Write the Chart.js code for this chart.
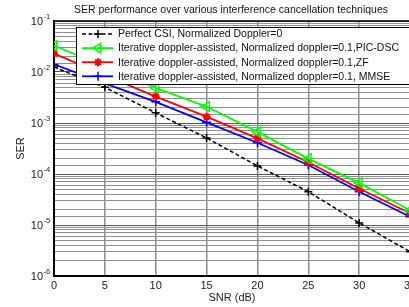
<!DOCTYPE html>
<html lang="en">
<head>
    <meta charset="UTF-8">
    <title>SER performance</title>
    <script src="https://cdn.jsdelivr.net/npm/chart.js"></script>
    <style>
        html, body {
            margin: 0;
            padding: 0;
            background-color: #fff;
            overflow: hidden;
        }
        #chart-box {
            width: 430px;
            height: 307px;
        }
    </style>
</head>
<body>
    <div id="chart-box">
        <canvas id="ser-chart"></canvas>
    </div>

    <script>
        // SNR points (dB)
        const snr = [0, 5, 10, 15, 20, 25, 30, 35];

        // SER values
        const serPerfect = [0.0125, 5.0e-3, 1.58e-3, 5.1e-4, 1.44e-4, 4.5e-5, 1.1e-5, 3.0e-6];
        const serPicDsc = [0.033, 0.0128, 4.9e-3, 2.1e-3, 6.7e-4, 2.0e-4, 6.7e-5, 1.95e-5];
        const serZf = [0.023, 8.7e-3, 3.3e-3, 1.33e-3, 5.0e-4, 1.7e-4, 5.2e-5, 1.7e-5];
        const serMmse = [0.0141, 6.0e-3, 2.6e-3, 1.03e-3, 4.1e-4, 1.5e-4, 4.5e-5, 1.45e-5];

        const seriesLabels = [
            'Perfect CSI, Normalized Doppler=0',
            'Iterative doppler-assisted, Normalized doppler=0.1,PIC-DSC',
            'Iterative doppler-assisted, Normalized doppler=0.1,ZF',
            'Iterative doppler-assisted, Normalized doppler=0.1, MMSE'
        ];

        const xTicks = [0, 5, 10, 15, 20, 25, 30, 35];
        const yDecades = [1e-1, 1e-2, 1e-3, 1e-4, 1e-5, 1e-6];

        const font = "'Liberation Sans', Arial, sans-serif";

        function isDecade(v) {
            const e = Math.log10(v);
            return Math.abs(e - Math.round(e)) < 1e-6;
        }

        function toPoints(values) {
            return snr.map((x, i) => ({ x: x, y: values[i] }));
        }

        // title, y labels with exponents, top frame line and the boxed legend
        const matlabDecor = {
            id: 'matlabDecor',
            afterDraw(chart) {
                const ctx = chart.ctx;
                const area = chart.chartArea;
                const yScale = chart.scales.y;
                ctx.save();

                // top frame
                ctx.strokeStyle = '#000';
                ctx.lineWidth = 1.5;
                ctx.beginPath();
                ctx.moveTo(area.left, area.top);
                ctx.lineTo(area.right, area.top);
                ctx.stroke();

                // title
                ctx.fillStyle = '#111';
                ctx.font = '10.5px ' + font;
                ctx.textAlign = 'center';
                ctx.textBaseline = 'middle';
                ctx.fillText('SER performance over various interference cancellation techniques', 231, 10);

                // y decade labels
                yDecades.forEach(v => {
                    const py = yScale.getPixelForValue(v);
                    const exp = String(Math.round(Math.log10(v)));
                    ctx.fillStyle = '#222';
                    ctx.font = '11px ' + font;
                    ctx.textAlign = 'right';
                    ctx.textBaseline = 'middle';
                    ctx.fillText('10', 43, py + 1);
                    ctx.font = '7.5px ' + font;
                    ctx.textAlign = 'left';
                    ctx.fillText(exp, 43.5, py - 4);
                });

                // legend
                const lx = 76, ly = 27, lw = 360, lh = 57;
                ctx.fillStyle = '#fff';
                ctx.fillRect(lx, ly, lw, lh);
                ctx.strokeStyle = '#000';
                ctx.lineWidth = 1;
                ctx.strokeRect(lx + 0.5, ly + 0.5, lw, lh);

                chart.data.datasets.forEach((ds, i) => {
                    const rowY = 34 + i * 14.1;
                    ctx.save();
                    ctx.strokeStyle = ds.borderColor;
                    ctx.lineWidth = ds.borderWidth;
                    ctx.setLineDash(ds.borderDash || []);
                    ctx.beginPath();
                    ctx.moveTo(82, rowY);
                    ctx.lineTo(113, rowY);
                    ctx.stroke();
                    ctx.setLineDash([]);
                    ctx.strokeStyle = ds.pointBorderColor;
                    ctx.fillStyle = ds.pointBackgroundColor;
                    ctx.lineWidth = ds.pointBorderWidth;
                    Chart.helpers.drawPoint(ctx, {
                        pointStyle: ds.pointStyle,
                        radius: ds.pointRadius,
                        rotation: ds.pointRotation || 0,
                        borderWidth: ds.pointBorderWidth
                    }, 98, rowY);
                    ctx.restore();

                    ctx.fillStyle = '#111';
                    ctx.font = '10.5px ' + font;
                    ctx.textAlign = 'left';
                    ctx.textBaseline = 'middle';
                    ctx.fillText(ds.label, 118, rowY + 0.5);
                });

                ctx.restore();
            }
        };

        const ctx = document.getElementById('ser-chart').getContext('2d');
        new Chart(ctx, {
            type: 'line',
            data: {
                datasets: [
                    {
                        label: seriesLabels[0],
                        data: toPoints(serPerfect),
                        borderColor: '#000',
                        borderWidth: 1.5,
                        borderDash: [4, 2.5],
                        pointStyle: 'cross',
                        pointRadius: 4,
                        pointBorderColor: '#000',
                        pointBackgroundColor: '#000',
                        pointBorderWidth: 1.5
                    },
                    {
                        label: seriesLabels[1],
                        data: toPoints(serPicDsc),
                        borderColor: '#00ff00',
                        borderWidth: 1.8,
                        pointStyle: 'triangle',
                        pointRotation: -90,
                        pointRadius: 5.5,
                        pointBorderColor: '#00ff00',
                        pointBackgroundColor: 'rgba(0,0,0,0)',
                        pointBorderWidth: 1.5
                    },
                    {
                        label: seriesLabels[2],
                        data: toPoints(serZf),
                        borderColor: '#ff0000',
                        borderWidth: 1.8,
                        pointStyle: 'star',
                        pointRadius: 4,
                        pointBorderColor: '#ff0000',
                        pointBackgroundColor: '#ff0000',
                        pointBorderWidth: 2
                    },
                    {
                        label: seriesLabels[3],
                        data: toPoints(serMmse),
                        borderColor: '#0000ff',
                        borderWidth: 1.8,
                        pointStyle: 'cross',
                        pointRadius: 4.5,
                        pointBorderColor: '#0000ff',
                        pointBackgroundColor: '#0000ff',
                        pointBorderWidth: 1.5
                    }
                ]
            },
            options: {
                responsive: true,
                maintainAspectRatio: false,
                animation: false,
                devicePixelRatio: 1,
                layout: {
                    padding: { top: 21, right: 20, left: 0, bottom: 0 }
                },
                plugins: {
                    legend: { display: false },
                    title: { display: false },
                    tooltip: { enabled: false }
                },
                scales: {
                    x: {
                        type: 'linear',
                        min: 0,
                        max: 35,
                        afterBuildTicks(scale) {
                            scale.ticks = xTicks.map(v => ({ value: v }));
                        },
                        afterFit(scale) {
                            scale.height = 31;
                        },
                        grid: {
                            color: '#8c8c8c',
                            lineWidth: 1.5,
                            drawTicks: false
                        },
                        border: { color: '#000', width: 2 },
                        ticks: {
                            color: '#222',
                            padding: 3,
                            font: { family: font, size: 11 },
                            maxRotation: 0
                        },
                        title: {
                            display: true,
                            text: 'SNR (dB)',
                            color: '#222',
                            font: { family: font, size: 11 },
                            padding: { top: 0, bottom: 2 }
                        }
                    },
                    y: {
                        type: 'logarithmic',
                        min: 1e-6,
                        max: 1e-1,
                        afterFit(scale) {
                            scale.width = 54;
                        },
                        grid: {
                            color: c => (c.tick && isDecade(c.tick.value)) ? '#555' : '#909090',
                            lineWidth: 1,
                            drawTicks: false
                        },
                        border: { color: '#000', width: 2 },
                        ticks: { display: false },
                        title: {
                            display: true,
                            text: 'SER',
                            color: '#222',
                            font: { family: font, size: 11 },
                            padding: { top: 14, bottom: 0 }
                        }
                    }
                }
            },
            plugins: [matlabDecor]
        });
    </script>
</body>
</html>
